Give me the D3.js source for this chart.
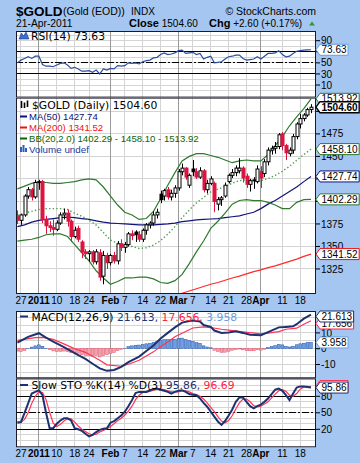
<!DOCTYPE html>
<html><head><meta charset="utf-8">
<script src="https://cdn.jsdelivr.net/npm/d3@7"></script>
<style>
html,body{margin:0;padding:0;background:#a4c6f0;overflow:hidden;}
svg{display:block;}
text{font-family:"Liberation Sans",Arial,sans-serif;}
.hdr{font-family:"DejaVu Sans",Verdana,sans-serif;font-size:10.8px;}
</style></head><body>
<svg id="c" width="360" height="463"></svg>
<script>
// ---------------- DATA ----------------
const dates = ["2010-12-23","2010-12-27","2010-12-28","2010-12-29","2010-12-30","2010-12-31",
"2011-01-03","2011-01-04","2011-01-05","2011-01-06","2011-01-07","2011-01-10","2011-01-11","2011-01-12","2011-01-13","2011-01-14",
"2011-01-18","2011-01-19","2011-01-20","2011-01-21","2011-01-24","2011-01-25","2011-01-26","2011-01-27","2011-01-28","2011-01-31",
"2011-02-01","2011-02-02","2011-02-03","2011-02-04","2011-02-07","2011-02-08","2011-02-09","2011-02-10","2011-02-11","2011-02-14",
"2011-02-15","2011-02-16","2011-02-17","2011-02-18","2011-02-22","2011-02-23","2011-02-24","2011-02-25","2011-02-28",
"2011-03-01","2011-03-02","2011-03-03","2011-03-04","2011-03-07","2011-03-08","2011-03-09","2011-03-10","2011-03-11","2011-03-14",
"2011-03-15","2011-03-16","2011-03-17","2011-03-18","2011-03-21","2011-03-22","2011-03-23","2011-03-24","2011-03-25","2011-03-28",
"2011-03-29","2011-03-30","2011-03-31","2011-04-01","2011-04-04","2011-04-05","2011-04-06","2011-04-07","2011-04-08","2011-04-11",
"2011-04-12","2011-04-13","2011-04-14","2011-04-15","2011-04-18","2011-04-19","2011-04-20","2011-04-21"];

const openP  = [1384,1379,1385,1406,1413,1405, 1421,1422,1380,1373,1371,1369,1376,1385,1387,1378, 1361,1370,1355,1344,1342,1344,1333,1343,1317,1340,
 1332,1340,1334,1353,1349,1352,1364,1366,1363,1358, 1368,1374,1376,1385,1408,1406,1413,1405,1409,
 1415,1433,1437,1418,1436,1433,1427,1434,1413,1420, 1420,1397,1402,1406,1422,1429,1432,1434,1437,1428,
 1419,1423,1422,1433,1431,1444,1457,1459,1461,1475, 1462,1453,1457,1472,1486,1492,1496,1502];
const highP  = [1390,1386,1408,1416,1415,1424, 1424,1424,1384,1378,1380,1379,1388,1392,1391,1380, 1372,1373,1357,1347,1346,1346,1347,1347,1345,1343,
 1342,1344,1356,1358,1355,1366,1368,1368,1367,1370, 1376,1378,1389,1392,1412,1414,1416,1413,1418,
 1436,1442,1438,1431,1446,1437,1438,1436,1424,1428, 1422,1405,1406,1421,1431,1436,1440,1448,1439,1431,
 1425,1427,1440,1439,1447,1460,1462,1466,1476,1477, 1464,1460,1475,1488,1497,1498,1504,1508];
const lowP   = [1375,1374,1383,1403,1401,1403, 1413,1376,1364,1366,1362,1367,1374,1380,1372,1355, 1359,1355,1337,1336,1333,1330,1330,1312,1308,1325,
 1329,1331,1330,1345,1343,1350,1357,1355,1355,1355, 1363,1370,1373,1381,1398,1401,1402,1401,1404,
 1412,1429,1424,1415,1428,1425,1425,1410,1409,1418, 1388,1390,1395,1404,1420,1426,1428,1431,1421,1415,
 1411,1414,1420,1415,1427,1440,1452,1453,1458,1457, 1446,1450,1453,1469,1481,1489,1494,1498];
const closeP = [1379,1385,1406,1413,1405,1421, 1422,1380,1373,1371,1369,1376,1385,1387,1378,1361, 1368,1358,1344,1342,1344,1333,1344,1316,1340,1332,
 1340,1334,1353,1349,1352,1364,1362,1363,1358,1368, 1374,1376,1385,1388,1402,1412,1405,1409,1415,
 1433,1437,1427,1429,1433,1427,1434,1413,1420,1425, 1400,1402,1404,1418,1429,1432,1437,1437,1426,1419,
 1423,1424,1436,1426,1444,1457,1459,1461,1474,1462, 1454,1457,1472,1486,1492,1496,1502,1504.6];

// overlay lines, read every other session
const bandDates = ["2010-12-23","2010-12-28","2010-12-30","2011-01-03","2011-01-05","2011-01-07","2011-01-11","2011-01-13","2011-01-18","2011-01-20",
"2011-01-24","2011-01-26","2011-01-28","2011-02-01","2011-02-03","2011-02-07","2011-02-09","2011-02-11","2011-02-15","2011-02-17",
"2011-02-22","2011-02-24","2011-02-28","2011-03-02","2011-03-04","2011-03-08","2011-03-10","2011-03-14","2011-03-16","2011-03-18",
"2011-03-22","2011-03-24","2011-03-28","2011-03-30","2011-04-01","2011-04-05","2011-04-07","2011-04-11","2011-04-13","2011-04-15",
"2011-04-19","2011-04-21"];
const bbUpper = [1414,1417,1420,1422,1421,1420,1420,1421,1422,1424,1425,1424,1416,1406,1396,1388,1385,1380,1381,1389,
 1403,1418,1432,1445,1450,1453,1453,1451,1449,1446,1443,1445,1446,1445,1445,1452,1462,1472,1484,1494,1503,1513.92];
const bbMid = [1385,1387,1389,1391,1392,1392,1392,1391,1387,1383.5,1379.4,1373.7,1365.6,1357,1353.7,1351.8,1350,1347.8,1348.5,1351.4,
 1356.6,1363.6,1372,1381.9,1390.4,1398.3,1404.4,1410.6,1413.6,1416.6,1420.2,1423,1424.1,1422.9,1423.2,1425.3,1428.9,1433.5,1438.9,1445.7,1452.1,1458.1];
const bbLower = [1356,1357,1358,1360,1363,1364,1364,1361,1352,1343,1334,1323,1315,1308,1311,1315,1315,1316,1316,1314,
 1310,1309,1312,1319,1331,1344,1356,1370,1378,1387,1397,1401,1402,1401,1401,1399,1396,1392,1392,1399,1402,1402.29];
const ma50 = [1372,1374,1377,1379,1380,1381,1382,1382.5,1382,1381,1380,1378.5,1377,1376,1375.5,1375,1374.5,1374,1374,1374,
 1374.5,1375,1376,1377.5,1378.5,1379.5,1380,1380.5,1381,1382,1383,1384,1386,1388,1392,1397,1401,1406,1411,1416,1422,1427.74];
const ma200 = [null,null,null,null,null,null,null,null,null,null,null,null,null,null,null,null,null,null,null,null,null,null,
 1295,1298,1300.5,1303,1305.5,1308,1310,1312.5,1315,1317,1319.5,1322,1324,1326.5,1328.5,1331,1333.5,1336,1339,1341.52];

const rsi = [50,55,58,61,58,62, 62,47,44,44,43,46,49,50,46,40, 42,39,35,35,36,33,37,30,39,37,
 40,39,45,44,45,50,49,50,48,52, 54,55,59,60,65,68,65,66,68,
 72,73,67,68,69,65,67,57,60,62, 50,51,52,57,61,62,64,64,58,55,
 56,57,61,57,62,67,67,68,72,65, 61,62,67,71,72,73,73.5,73.63];

const macdPts = [["2010-12-23",3.8],["2010-12-29",7.5],["2011-01-03",9.8],["2011-01-05",7],["2011-01-07",4.5],["2011-01-12",1],
 ["2011-01-14",-1.5],["2011-01-19",-4],["2011-01-21",-6.5],["2011-01-25",-9.5],["2011-01-27",-12.5],["2011-01-31",-14],
 ["2011-02-02",-13.5],["2011-02-04",-11.5],["2011-02-08",-8.5],["2011-02-11",-5],["2011-02-15",-1.5],["2011-02-17",2],
 ["2011-02-22",6.5],["2011-02-24",10],["2011-02-28",13.5],["2011-03-02",16.5],["2011-03-04",17.5],["2011-03-07",17.8],
 ["2011-03-09",17.2],["2011-03-10",15],["2011-03-14",13.8],["2011-03-15",11.5],["2011-03-17",10],["2011-03-21",10.2],
 ["2011-03-23",11],["2011-03-25",10],["2011-03-29",8.8],["2011-04-01",8.5],["2011-04-05",10.5],["2011-04-08",13.5],
 ["2011-04-12",13.8],["2011-04-14",14.2],["2011-04-15",15.5],["2011-04-19",19],["2011-04-21",21.613]];
const signalPts = [["2010-12-23",5.3],["2010-12-31",7],["2011-01-04",7.2],["2011-01-07",5.9],["2011-01-11",4],["2011-01-14",1],
 ["2011-01-18",0],["2011-01-21",-2.3],["2011-01-25",-4.8],["2011-01-27",-7.3],["2011-01-31",-10.2],["2011-02-04",-11.1],
 ["2011-02-08",-9.8],["2011-02-11",-7.3],["2011-02-15",-4.6],["2011-02-17",-2],["2011-02-22",1.4],["2011-02-24",4.3],
 ["2011-02-28",7.6],["2011-03-02",9.8],["2011-03-07",13.1],["2011-03-10",13.8],["2011-03-14",13.4],["2011-03-17",12.3],
 ["2011-03-21",11.8],["2011-03-25",10.7],["2011-04-01",9.4],["2011-04-05",9.8],["2011-04-08",10.8],["2011-04-12",12.3],
 ["2011-04-15",13],["2011-04-19",15.5],["2011-04-21",17.656]];
const macdHist = [-1.5,-1.8,-1.2,0.2,1.0,1.8, 2.4,1.5,0.3,-0.6,-1.4,-1.8,-1.6,-1.5,-1.8,-2.5, -2.6,-3.0,-3.8,-4.2,-4.2,-4.6,-4.3,-5.2,-4.4,-3.8,
 -3.0,-2.4,-1.2,-0.4,0.3,1.3,1.8,2.2,2.3,2.7, 3.1,3.4,4.0,4.4,5.1,5.8,5.7,5.7,5.9,
 6.6,6.7,5.8,5.2,4.7,3.8,3.4,1.8,1.1,0.6, -1.0,-1.8,-2.3,-2.2,-1.6,-1.0,-0.5,-0.2,-0.7,-1.2,
 -1.3,-1.3,-0.7,-0.9,-0.3,0.7,1.4,1.9,2.7,2.4, 1.5,1.1,1.6,2.5,3.1,3.5,3.8,3.958];

const stoK = [32,33,50,67,85,88, 91,82,50,22,22,30,36,40,40,36, 22,20,17,12,7,10,15,19,21,22,
 32,35,40,45,52,62,73,86,88,88, 88,91,93,94,92,90,88,85,88,
 90,91,88,84,83,82,76,68,61,52, 43,34,28,35,45,56,70,78,78,70,
 62,58,62,65,70,76,84,92,94,90, 82,73,85,96,98,98,97,95.86];
const stoD = [34,33,38,50,67,80, 88,87,74,51,31,25,29,35,39,39, 33,26,20,16,12,10,11,15,18,21,
 25,30,36,40,46,53,62,74,82,87, 88,89,91,93,93,92,90,88,88,
 88,90,90,88,85,83,80,75,68,60, 52,43,35,32,36,45,57,68,75,75,
 70,63,61,62,66,70,77,84,90,92, 89,82,80,85,93,97,98,96.69];

const axisDates  = ["2010-12-27","2011-01-03","2011-01-10","2011-01-18","2011-01-24","2011-02-01","2011-02-07","2011-02-14","2011-02-22",
 "2011-03-01","2011-03-07","2011-03-14","2011-03-21","2011-03-28","2011-04-01","2011-04-11","2011-04-18"];
const axisLabels = ["27","2011","10","18","24","Feb","7","14","22","Mar","7","14","21","28","Apr","11","18"];
const axisMajor  = ["2011","Feb","Mar","Apr"];
const priceTicks = [1325,1350,1375,1400,1425,1450,1475,1500];
const priceTickLabels = [1325,1350,1375,1450,1475];
const rsiTicks = [10,30,50,70,90];
const rsiTickLabels = [10,30,50,90];
const macdTicks = [-10,0,10,20];
const macdTickLabels = [-10,0,10];
const stoTicks = [20,50,80];

// ---------------- LAYOUT ----------------
const svg = d3.select("#c");
const L = 16, R = 316;
const P = {
  rsi:   {top: 31,    bottom: 97.6},
  price: {top: 97.6,  bottom: 294},
  macd:  {top: 311,   bottom: 378.3},
  sto:   {top: 378.3, bottom: 447.3}
};
const x = d3.scalePoint().domain(dates).range([17.4, 311]);
const yRsi   = d3.scaleLinear().domain([-12.7, 107.5]).range([P.rsi.bottom, P.rsi.top]);
const yPrice = d3.scaleLinear().domain([1297.2, 1515.3]).range([P.price.bottom, P.price.top]);
const yMacd  = d3.scaleLinear().domain([-18.73, 23.86]).range([P.macd.bottom, P.macd.top]);
const ySto   = d3.scaleLinear().domain([-12.7, 112.7]).range([P.sto.bottom, P.sto.top]);

const defs = svg.append("defs");
function panel(name, p, y, hTicks, special) {
  defs.append("clipPath").attr("id","clip-"+name).append("rect")
    .attr("x",L).attr("y",p.top).attr("width",R-L).attr("height",p.bottom-p.top);
  const g = svg.append("g");
  g.append("rect").attr("x",L).attr("y",p.top).attr("width",R-L).attr("height",p.bottom-p.top).attr("fill","#fff");
  const grid = g.append("g").attr("clip-path",`url(#clip-${name})`).attr("shape-rendering","crispEdges");
  grid.selectAll("line.h").data(hTicks).join("line")
    .attr("x1",L).attr("x2",R).attr("y1",d=>y(d)).attr("y2",d=>y(d))
    .attr("stroke","#d4d4d4").attr("stroke-width",1);
  grid.selectAll("line.v").data(axisDates).join("line")
    .attr("x1",d=>x(d)).attr("x2",d=>x(d)).attr("y1",p.top).attr("y2",p.bottom)
    .attr("stroke",(d,i)=>axisMajor.includes(axisLabels[i])?"#9a9a9a":"#d4d4d4").attr("stroke-width",1);
  if (special) {
    special.solid.forEach(v=>grid.append("line").attr("x1",L).attr("x2",R).attr("y1",y(v)).attr("y2",y(v)).attr("stroke","#000"));
    grid.append("line").attr("x1",L).attr("x2",R).attr("y1",y(special.dash)).attr("y2",y(special.dash))
      .attr("stroke","#000").attr("stroke-dasharray","7,2,2,2");
  }
  const plot = svg.append("g").attr("clip-path",`url(#clip-${name})`);
  return plot;
}
function border(p){
  svg.append("rect").attr("x",L+0.5).attr("y",p.top+0.5).attr("width",R-L-1).attr("height",p.bottom-p.top-1)
   .attr("fill","none").attr("stroke","#1a1a2a").attr("stroke-width",1);
}
function rightTicks(vals, labels, y, p){
  const g = svg.append("g");
  vals.forEach(v=>{
    const yy = y(v);
    if (yy < p.top || yy > p.bottom) return;
    g.append("line").attr("x1",R).attr("x2",R+4).attr("y1",yy).attr("y2",yy).attr("stroke","#000");
    if (labels.includes(v))
      g.append("text").attr("x",R+5).attr("y",yy+3.6).text(v).style("font-size","10px").attr("fill","#000");
  });
}
function tag(yy, txt, color, bold){
  const g = svg.append("g");
  const t = g.append("text").attr("x",321.5).attr("y",yy+3.6).text(txt)
     .style("font-size","10px").style("font-weight",bold?"bold":"normal").attr("fill","#000");
  const w = t.node().getComputedTextLength();
  const h = 5.5, x2 = 321.5 + w + 1.5;
  g.insert("path","text").attr("d",`M${R},${yy}L${R+4},${yy-h}H${x2}V${yy+h}H${R+4}Z`)
    .attr("fill","#fff").attr("stroke",color).attr("stroke-width",bold?1.3:1);
}
function xLabels(yBase){
  const g = svg.append("g");
  axisDates.forEach((d,i)=>{
    const lab = axisLabels[i];
    g.append("text").attr("x",x(d)).attr("y",yBase).attr("text-anchor","middle").text(lab)
      .style("font-size","10px").style("font-weight",axisMajor.includes(lab)?"bold":"normal").attr("fill","#000");
  });
}
const lineGen = (y)=>d3.line().defined(d=>d[1]!=null).x(d=>x(d[0])).y(d=>y(d[1]));

// ---------------- TITLE ----------------
svg.append("text").attr("x",16).attr("y",15.5).text("$GOLD").style("font-size","13.5px").style("font-weight","bold");
svg.append("text").attr("x",63).attr("y",15).text("(Gold (EOD))").style("font-size","10.5px");
svg.append("text").attr("x",131).attr("y",15).text("INDX").style("font-size","10px");
svg.append("text").attr("x",316).attr("y",15).attr("text-anchor","end").text("© StockCharts.com").style("font-size","10.5px");
svg.append("text").attr("x",16).attr("y",27).text("21-Apr-2011").style("font-size","10.3px");
const cl = svg.append("text").attr("x",129).attr("y",27).style("font-size","10px");
cl.append("tspan").text("Close").style("font-weight","bold").style("font-size","11px");
cl.append("tspan").text(" 1504.60");
cl.append("tspan").attr("x",209).text("Chg").style("font-weight","bold").style("font-size","11px");
cl.append("tspan").text(" +2.60 (+0.17%)");
svg.append("path").attr("d","M309,25.5L312,21.5L315,25.5Z").attr("fill","#2f9a2f");

// ---------------- RSI PANEL ----------------
const rsiPlot = panel("rsi", P.rsi, yRsi, d3.range(0,101,10), {solid:[70,30], dash:50});
rsiPlot.append("path").datum(dates.map((d,i)=>[d,rsi[i]])).attr("d",lineGen(yRsi))
  .attr("fill","none").attr("stroke","#2b4f9e").attr("stroke-width",1.2);
border(P.rsi);
svg.append("path").attr("d","M19,39L21.5,33L23.5,36L26,32L29,39Z").attr("fill","#3a6fd0").attr("stroke","#1b3a8a").attr("stroke-width",0.6);
svg.append("text").attr("class","hdr").attr("x",31).attr("y",39.5).text("RSI(14) 73.63");
rightTicks(rsiTicks, rsiTickLabels, yRsi, P.rsi);
tag(yRsi(73.63), "73.63", "#6a9de0", false);

// ---------------- PRICE PANEL ----------------
const pPlot = panel("price", P.price, yPrice, priceTicks);
const bandLine = (arr)=>bandDates.map((d,i)=>[d,arr[i]]);
pPlot.append("path").datum(bandLine(ma200)).attr("d",lineGen(yPrice)).attr("fill","none").attr("stroke","#ff2a2a").attr("stroke-width",1.2);
pPlot.append("path").datum(bandLine(ma50)).attr("d",lineGen(yPrice)).attr("fill","none").attr("stroke","#13137a").attr("stroke-width",1.2);
pPlot.append("path").datum(bandLine(bbUpper)).attr("d",lineGen(yPrice)).attr("fill","none").attr("stroke","#2e7a2e").attr("stroke-width",1.2);
pPlot.append("path").datum(bandLine(bbLower)).attr("d",lineGen(yPrice)).attr("fill","none").attr("stroke","#2e7a2e").attr("stroke-width",1.2);
pPlot.append("path").datum(bandLine(bbMid)).attr("d",lineGen(yPrice)).attr("fill","none").attr("stroke","#4e9e4e").attr("stroke-width",1.4).attr("stroke-dasharray","1.4,2.2");

const candles = pPlot.append("g");
dates.forEach((d,i)=>{
  const cx = Math.round(x(d)) + 0.5;
  const prev = i>0 ? closeP[i-1] : openP[i];
  const col = closeP[i] >= prev ? "#000" : "#dc1440";
  const hollow = closeP[i] >= openP[i];
  candles.append("line").attr("x1",cx).attr("x2",cx).attr("y1",yPrice(highP[i])).attr("y2",yPrice(lowP[i]))
    .attr("stroke",col).attr("stroke-width",1);
  const yt = yPrice(Math.max(openP[i],closeP[i])), yb = yPrice(Math.min(openP[i],closeP[i]));
  if (hollow) {
    candles.append("rect").attr("x",cx-1.5).attr("y",yt).attr("width",3).attr("height",Math.max(1,yb-yt))
      .attr("fill","#fff").attr("stroke",col).attr("stroke-width",1);
  } else {
    candles.append("rect").attr("x",cx-2).attr("y",yt-0.5).attr("width",4).attr("height",Math.max(1,yb-yt+1))
      .attr("fill",col);
  }
});
border(P.price);
// legend
const lg = svg.append("g");
lg.append("path").attr("d","M21.5,101V108M24.5,102.5V108M27.5,100.5V107").attr("stroke","#000").attr("stroke-width",1.6);
lg.append("text").attr("class","hdr").attr("x",32).attr("y",108.5).text("$GOLD (Daily) 1504.60");
const legs = [["MA(50) 1427.74","#10107a",119.5],["MA(200) 1341.52","#ee1111",130.5],["BB(20,2.0) 1402.29 - 1458.10 - 1513.92","#0a650a",141.5]];
legs.forEach(l=>{
  lg.append("line").attr("x1",20).attr("x2",27).attr("y1",l[2]-3).attr("y2",l[2]-3).attr("stroke",l[1]).attr("stroke-width",2);
  lg.append("text").attr("x",29).attr("y",l[2]).text(l[0]).attr("fill",l[1]).style("font-size","9.6px");
});
lg.append("path").attr("d","M20,152V147H22V152M22.5,152V145H24.5V152M25,152V148H27V152").attr("fill","#2f5fb8");
lg.append("text").attr("x",29).attr("y",152.5).text("Volume undef").attr("fill","#1b3a9a").style("font-size","9.8px");
rightTicks(priceTicks, priceTickLabels, yPrice, P.price);
tag(yPrice(1341.52), "1341.52", "#ee1111", false);
tag(yPrice(1402.29), "1402.29", "#2e7a2e", false);
tag(yPrice(1427.74), "1427.74", "#13137a", false);
tag(yPrice(1458.10), "1458.10", "#2e7a2e", false);
tag(yPrice(1513.92), "1513.92", "#2e7a2e", false);
tag(yPrice(1504.60), "1504.60", "#000", true);
xLabels(304);

// ---------------- MACD PANEL ----------------
const mPlot = panel("macd", P.macd, yMacd, d3.range(-15,21,5));
const bw = 2.8;
mPlot.selectAll("rect.h").data(dates).join("rect")
  .attr("x",d=>x(d)-bw/2).attr("width",bw)
  .attr("y",(d,i)=>yMacd(Math.max(0,macdHist[i]))).attr("height",(d,i)=>Math.abs(yMacd(macdHist[i])-yMacd(0)))
  .attr("fill",(d,i)=>macdHist[i]>=0?"#6e9ee6":"#f3a3ad")
  .attr("stroke",(d,i)=>macdHist[i]>=0?"#2a55a8":"#e0506a").attr("stroke-width",0.5);
mPlot.append("path").datum(signalPts).attr("d",lineGen(yMacd)).attr("fill","none").attr("stroke","#ff3355").attr("stroke-width",1.2);
mPlot.append("path").datum(macdPts).attr("d",lineGen(yMacd)).attr("fill","none").attr("stroke","#1c3370").attr("stroke-width",2);
border(P.macd);
svg.append("line").attr("x1",20).attr("x2",28).attr("y1",316.5).attr("y2",316.5).attr("stroke","#1c3370").attr("stroke-width",2);
const mt = svg.append("text").attr("class","hdr").attr("x",31.5).attr("y",320.5);
mt.append("tspan").text("MACD(12,26,9)");
mt.append("tspan").text(" 21.613,").attr("fill","#1c3370");
mt.append("tspan").text(" 17.656,").attr("fill","#ff2244");
mt.append("tspan").text(" 3.958").attr("fill","#6a9de0");
rightTicks(macdTicks, macdTickLabels, yMacd, P.macd);
tag(yMacd(3.958), "3.958", "#6a9de0", false);
tag(Math.max(yMacd(17.656), 323.5), "17.656", "#ff2244", false);
tag(Math.max(yMacd(21.613), P.macd.top+5.5), "21.613", "#1c3370", false);

// ---------------- STO PANEL ----------------
const sPlot = panel("sto", P.sto, ySto, d3.range(0,111,10), {solid:[80,20], dash:50});
sPlot.append("path").datum(dates.map((d,i)=>[d,stoD[i]])).attr("d",lineGen(ySto)).attr("fill","none").attr("stroke","#ff3355").attr("stroke-width",1.2);
sPlot.append("path").datum(dates.map((d,i)=>[d,stoK[i]])).attr("d",lineGen(ySto)).attr("fill","none").attr("stroke","#1c3370").attr("stroke-width",2);
border(P.sto);
svg.append("line").attr("x1",20).attr("x2",28).attr("y1",385).attr("y2",385).attr("stroke","#1c3370").attr("stroke-width",2);
const st = svg.append("text").attr("class","hdr").attr("x",31.5).attr("y",389);
st.append("tspan").text("Slow STO %K(14) %D(3)");
st.append("tspan").text(" 95.86,").attr("fill","#1c3370");
st.append("tspan").text(" 96.69").attr("fill","#ff2244");
rightTicks(stoTicks, stoTicks, ySto, P.sto);
tag(ySto(96.69)-1, "96.69", "#ff2244", false);
tag(ySto(95.86), "95.86", "#1c3370", false);
xLabels(457);
</script>
</body></html>
